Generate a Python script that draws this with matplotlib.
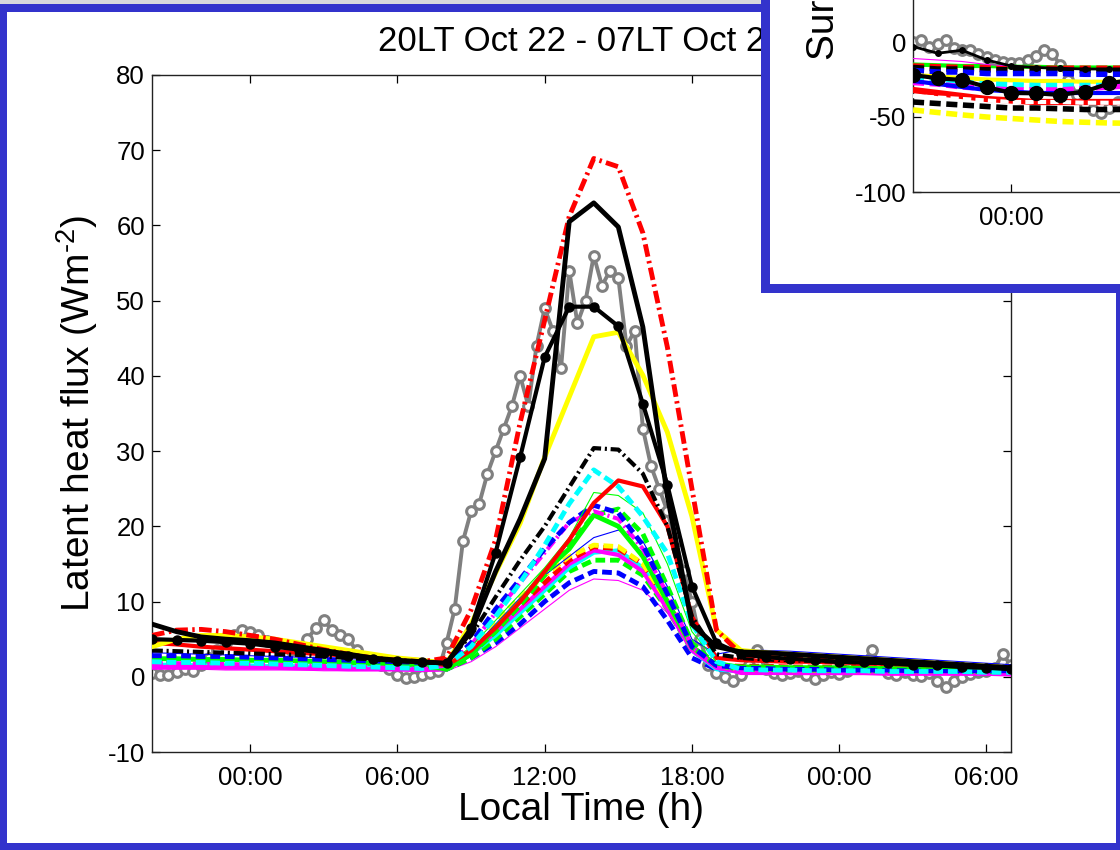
import matplotlib
matplotlib.use("Agg")
import matplotlib.pyplot as plt
from matplotlib.patches import Rectangle

plt.rcParams['font.family'] = ['Liberation Sans', 'DejaVu Sans']
plt.rcParams['axes.unicode_minus'] = False
plt.rcParams['mathtext.fontset'] = 'custom'
plt.rcParams['mathtext.rm'] = 'Liberation Sans'
plt.rcParams['mathtext.default'] = 'regular'

W, H = 1120, 850

# ---------------- data ----------------
# model output, hourly from 20LT Oct 22 (h=0) to 07LT Oct 24 (h=35)
model_hours = list(range(36))
tick_hours = [4, 10, 16, 22, 28, 34]
tick_labels = ["00:00", "06:00", "12:00", "18:00", "00:00", "06:00"]

blk_mk = [5.0,4.9,4.8,4.6,4.4,4.0,3.6,3.2,2.8,2.4,2.1,1.9, 1.8,6.5,16.5,29.2,42.5,49.2,49.2,46.6,36.3,25.5,12.0,4.5, 3.0,2.6,2.4,2.2,2.0,1.9,1.8,1.6,1.5,1.3,1.2,1.0]
blk = [7.0,6.0,5.3,5.0,4.8,4.5,4.0,3.5,3.0,2.5,2.2,2.0, 1.8,6.0,14.0,21.0,29.0,60.5,63.0,59.8,46.5,24.0,7.0,4.0, 3.3,3.2,3.0,2.8,2.6,2.4,2.2,2.0,1.8,1.6,1.4,1.2]
red_dd = [5.5,6.2,6.3,6.0,5.5,5.0,4.3,3.6,3.0,2.5,2.2,2.0, 2.5,8.9,18.2,33.8,47.4,61.2,68.9,67.8,59.0,43.8,25.0,6.2, 3.0,2.6,2.4,2.3,2.2,2.1,2.0,1.9,1.7,1.5,1.3,1.2]
yellow = [4.0,5.0,5.5,5.5,5.3,5.0,4.5,4.0,3.5,3.0,2.5,2.2, 1.8,7.0,13.8,20.4,29.2,37.2,45.2,45.8,40.1,32.5,21.3,6.2, 3.5,3.2,3.0,2.8,2.6,2.4,2.2,2.0,1.8,1.6,1.4,1.2]
blk_dd = [3.5,3.4,3.3,3.2,3.1,3.0,2.9,2.7,2.5,2.3,2.1,2.0, 2.0,5.5,10.6,15.5,20.0,25.2,30.4,30.2,27.0,20.0,8.0,3.0, 2.5,2.3,2.2,2.1,2.0,1.9,1.8,1.7,1.6,1.5,1.4,1.3]
cyan_d = [2.0,1.9,1.9,1.8,1.8,1.7,1.6,1.5,1.4,1.3,1.2,1.1, 1.5,4.0,8.0,12.5,17.5,23.0,27.5,25.3,21.3,16.4,7.0,2.0, 1.0,0.9,0.9,0.8,0.8,0.8,0.7,0.7,0.7,0.7,0.6,0.6]
red_s = [4.5,4.3,4.0,3.8,3.6,3.4,3.2,3.0,2.8,2.6,2.4,2.2, 1.5,3.5,6.5,10.0,14.0,18.2,23.1,26.1,25.3,20.0,8.0,2.5, 2.2,2.1,2.0,2.0,1.9,1.8,1.7,1.6,1.5,1.4,1.3,1.2]
grn_thin = [2.2,2.2,2.1,2.1,2.0,2.0,1.9,1.8,1.7,1.6,1.5,1.4, 1.5,4.0,7.5,11.0,14.5,18.5,24.5,24.1,21.8,15.0,6.0,2.0, 1.5,1.5,1.4,1.4,1.3,1.3,1.2,1.2,1.1,1.1,1.0,1.0]
blue_d = [2.8,2.8,2.7,2.7,2.6,2.5,2.4,2.3,2.2,2.1,2.0,1.9, 1.5,4.5,9.0,13.0,17.0,20.5,22.8,21.8,17.5,11.0,4.0,1.5, 1.2,1.1,1.0,1.0,0.9,0.9,0.9,0.8,0.8,0.8,0.8,0.8]
mag_dd = [1.8,1.8,1.7,1.7,1.6,1.6,1.5,1.5,1.4,1.3,1.2,1.1, 1.5,4.2,8.5,12.5,16.5,20.5,22.0,21.0,17.0,11.0,4.0,1.2, 0.8,0.8,0.7,0.7,0.7,0.6,0.6,0.6,0.6,0.5,0.5,0.5]
grn_d = [2.0,2.0,1.9,1.9,1.8,1.8,1.7,1.6,1.5,1.4,1.3,1.2, 1.2,3.0,6.0,9.5,13.5,17.5,21.5,22.3,19.0,12.0,4.5,1.5, 1.0,1.0,0.9,0.9,0.9,0.8,0.8,0.8,0.8,0.7,0.7,0.7]
grn_s = [2.4,2.4,2.3,2.3,2.2,2.2,2.1,2.0,1.9,1.8,1.7,1.6, 1.0,3.0,6.5,10.0,14.0,17.0,21.5,20.0,16.0,10.0,4.0,1.5, 1.3,1.3,1.2,1.2,1.2,1.1,1.1,1.1,1.0,1.0,1.0,1.0]
blue_thin = [3.2,3.1,3.0,2.9,2.8,2.7,2.6,2.5,2.4,2.3,2.2,2.1, 1.5,3.5,7.0,10.5,13.5,16.0,18.5,19.5,18.0,12.0,5.0,3.0, 3.6,3.5,3.4,3.2,3.0,2.8,2.6,2.4,2.2,2.0,1.8,1.6]
yel_d = [2.5,2.5,2.5,2.4,2.4,2.3,2.2,2.1,2.0,1.9,1.8,1.7, 1.5,4.0,7.5,10.5,13.5,16.0,17.5,17.3,15.0,10.0,4.0,1.5, 1.0,1.0,0.9,0.9,0.9,0.8,0.8,0.8,0.8,0.8,0.7,0.7]
red_d = [2.6,2.6,2.5,2.5,2.4,2.4,2.3,2.2,2.1,2.0,1.9,1.8, 1.2,3.5,6.5,9.5,12.5,15.5,17.3,17.0,15.0,10.0,4.0,1.5, 1.4,1.4,1.3,1.3,1.3,1.2,1.2,1.2,1.1,1.1,1.1,1.0]
mag_s = [1.3,1.3,1.3,1.2,1.2,1.2,1.1,1.1,1.0,1.0,1.0,0.9, 1.0,3.0,6.0,9.0,12.0,15.0,16.8,16.2,14.0,9.0,3.5,1.2, 0.6,0.6,0.5,0.5,0.5,0.5,0.4,0.4,0.4,0.4,0.4,0.3]
cyan_s = [1.6,1.6,1.5,1.5,1.5,1.4,1.4,1.3,1.3,1.2,1.2,1.1, 1.0,3.0,5.5,8.5,11.5,14.5,16.5,16.8,14.5,9.5,3.5,1.0, 0.7,0.7,0.7,0.6,0.6,0.6,0.6,0.6,0.5,0.5,0.5,0.5]
grn_d2 = [1.7,1.7,1.6,1.6,1.6,1.5,1.5,1.4,1.4,1.3,1.3,1.2, 1.0,2.5,5.0,8.0,11.0,14.0,15.5,15.5,13.5,9.0,3.5,1.2, 0.9,0.9,0.8,0.8,0.8,0.8,0.7,0.7,0.7,0.7,0.7,0.6]
blue_d2 = [2.2,2.2,2.1,2.1,2.0,2.0,1.9,1.9,1.8,1.7,1.6,1.5, 1.0,2.5,4.5,7.0,10.0,12.5,14.0,13.8,12.0,7.5,2.5,1.0, 0.8,0.8,0.8,0.7,0.7,0.7,0.7,0.7,0.6,0.6,0.6,0.6]
mag_thin = [1.0,1.0,1.0,0.9,0.9,0.9,0.9,0.8,0.8,0.8,0.8,0.7, 0.8,2.0,4.0,6.5,9.0,11.5,13.0,12.8,11.5,8.5,3.5,1.2, 0.3,0.3,0.3,0.3,0.3,0.3,0.3,0.3,0.3,0.3,0.3,0.3]

# observations, every 20 min from 20LT Oct 22
obs_hours = [i / 3 for i in range(106)]
obs = [0.5,0.3,0.2,0.6,1.0,0.8,1.5,2.5,3.5,4.5,5.5,6.2,
       6.0,5.5,4.8,4.5,4.0,3.5,3.8,5.0,6.5,7.5,6.2,5.5,
       5.0,3.5,2.5,2.0,1.5,1.0,0.3,-0.2,0.0,0.3,0.5,0.8,
       4.5,9.0,18.0,22.0,23.0,27.0,30.0,33.0,36.0,40.0,36.0,44.0,
       49.0,46.0,41.0,54.0,47.0,50.0,56.0,52.0,54.0,53.0,44.0,46.0,
       33.0,28.0,25.0,22.0,18.0,14.0,10.0,5.0,1.5,0.5,0.0,-0.5,
       0.3,1.5,3.5,1.0,0.5,0.2,0.5,0.8,0.3,-0.3,0.2,0.6,
       0.4,0.8,1.2,2.0,3.6,1.5,0.5,0.2,0.6,0.3,0.1,0.5,
       -0.5,-1.3,-0.6,0.0,0.4,0.6,0.8,1.2,3.0,1.5]

# inset (surface flux), visible portion only: hourly 20LT..05LT
ins_hours = list(range(10))
ins_blk_small = [-3,-7.5,-5.5,-12,-16,-17,-17.5,-18,-18,-18]
ins_grn = [-15,-15.5,-16,-16,-16.5,-16.5,-17,-17,-17,-17]
ins_red_d = [-16,-16.5,-17,-17,-17.5,-17.5,-17.5,-17.5,-17.5,-17.5]
ins_blk_d = [-17,-18,-18,-18.5,-18.5,-18.5,-19,-19,-19,-19]
ins_blue_d = [-19,-20,-20,-21,-21,-21,-21,-21.5,-21.5,-21.5]
ins_mag_thin = [-11,-12,-13,-15,-16,-17,-17,-18,-18,-18]
ins_yel_s = [-22,-23,-24,-25,-25.5,-26,-26,-26.5,-26.5,-26.5]
ins_cyan_d = [-24,-25,-27,-28,-28.5,-29,-29,-29,-29,-29]
ins_mag_d = [-27,-28,-30,-31,-32,-32,-32,-31,-30,-29]
ins_blue_s = [-26,-28,-30,-32,-33,-34,-34,-34,-34,-34]
ins_blk_big = [-22,-24.2,-25.3,-30,-34,-34.2,-35.3,-33,-27.5,-25]
ins_red_s = [-32,-34,-36,-38,-39,-40,-40,-40,-40,-40]
ins_white_d = [-36,-37,-38,-39,-40,-40,-40,-40.5,-40.5,-40.5]
ins_blk_d2 = [-40,-41,-42,-43,-44,-44,-44.5,-45,-45,-45]
ins_yel_d = [-45.3,-47,-48.6,-50,-51,-52,-53,-53.5,-54,-54.2]
ins_obs_hours = [i / 3 for i in range(28)]
ins_obs = [0,1.5,-3,-1,1.5,-4,-5,-5.3,-8,-10,-12,-13,-14,-14,-12,-9,-5.5,-8,-15,-25,-35,-42,-45,-47,-44,-40,-38,-36]

# ---------------- styling ----------------
DASH = (0, (2.0, 1.0))
DASHDOT = (0, (2.6, 0.9, 0.5, 0.9))
BLUE = '#3333cc'
GREY = '#808080'

main_series = [
    (mag_thin, 'magenta', '-', 0.8),
    (blue_d2, 'blue', DASH, 3.5),
    (grn_d2, '#00ff00', DASH, 3.5),
    (cyan_s, 'cyan', '-', 3.0),
    (mag_s, 'magenta', '-', 3.0),
    (red_d, 'red', DASH, 3.5),
    (yel_d, 'yellow', DASH, 3.5),
    (blue_thin, 'blue', '-', 0.8),
    (grn_s, '#00ff00', '-', 3.5),
    (grn_d, '#00ff00', DASH, 3.5),
    (mag_dd, 'magenta', DASHDOT, 3.0),
    (blue_d, 'blue', DASH, 3.5),
    (grn_thin, '#00ff00', '-', 0.8),
    (red_s, 'red', '-', 3.0),
    (cyan_d, 'cyan', DASH, 3.5),
    (blk_dd, 'black', DASHDOT, 3.0),
    (yellow, 'yellow', '-', 3.5),
    (red_dd, 'red', DASHDOT, 3.5),
    (blk, 'black', '-', 3.5),
]

inset_series = [
    (ins_grn, '#00ff00', '-', 3.0),
    (ins_red_d, 'red', DASH, 4.0),
    (ins_blk_d, 'black', DASH, 4.0),
    (ins_blue_d, 'blue', DASH, 4.0),
    (ins_mag_thin, 'magenta', '-', 0.8),
    (ins_yel_s, 'yellow', '-', 3.0),
    (ins_cyan_d, 'cyan', DASH, 4.0),
    (ins_mag_d, 'magenta', DASH, 4.0),
    (ins_blue_s, 'blue', '-', 3.0),
    (ins_red_s, 'red', '-', 4.5),
    (ins_white_d, 'white', DASH, 3.0),
    (ins_blk_d2, 'black', DASH, 4.0),
    (ins_yel_d, 'yellow', DASH, 4.0),
]

fig = plt.figure(figsize=(W / 100, H / 100), dpi=100, facecolor=BLUE)

# slide background: grey strip, white inner area
fig.add_artist(Rectangle((0, 1 - 4 / H), 1, 4 / H, transform=fig.transFigure,
                         facecolor='#d8d8dc', edgecolor='none', zorder=-2))
fig.add_artist(Rectangle((7 / W, 1 - 843 / H), (1116 - 7) / W, (843 - 12) / H,
                         transform=fig.transFigure, facecolor='white',
                         edgecolor='none', zorder=-1))


def style_axes(ax, fs):
    for s in ax.spines.values():
        s.set_linewidth(1.0)
        s.set_color('#222222')
    ax.tick_params(direction='in', length=6, width=0.9, top=True, right=True,
                   labelsize=fs, colors='black')


# ---------------- main axes ----------------
ax = fig.add_axes([152 / W, 1 - 752 / H, (1011 - 152) / W, (752 - 75) / H])
ax.set_zorder(1)
ax.set_facecolor('white')
ax.plot(obs_hours, obs, color=GREY, lw=2.8, marker='o', ms=7, mfc='white',
        mec=GREY, mew=2.2, zorder=2)
for vals, c, ls, lw in main_series:
    ax.plot(model_hours, vals, color=c, linestyle=ls, lw=lw, zorder=3)
ax.plot(model_hours, blk_mk, color='black', lw=3.0, marker='o', ms=6.5,
        zorder=4)
ax.set_xlim(0, 35)
ax.set_ylim(-10, 80)
ax.set_yticks(range(-10, 81, 10))
ax.set_xticks(tick_hours)
ax.set_xticklabels(tick_labels)
style_axes(ax, 18.5)
ax.tick_params(axis='x', pad=10)
ax.tick_params(axis='y', pad=5)
ax.set_xlabel('Local Time (h)', fontsize=28)
ax.xaxis.set_label_coords(0.5, -0.059)
ax.set_ylabel('Latent heat flux (Wm$^{\u20102}$)', fontsize=28)
ax.yaxis.set_label_coords(-0.061, 0.5)
ax.set_title('20LT Oct 22 - 07LT Oct 24', fontsize=25, pad=17)

# ---------------- inset panel ----------------
fig.add_artist(Rectangle((761 / W, 1 - 293 / H), 400 / W, 320 / H,
                         transform=fig.transFigure, facecolor=BLUE,
                         edgecolor='none', zorder=5))
fig.add_artist(Rectangle((770 / W, 1 - 284 / H), 400 / W, 320 / H,
                         transform=fig.transFigure, facecolor='white',
                         edgecolor='none', zorder=6))

ax2 = fig.add_axes([913 / W, 1 - 192 / H, (1011 - 152) / W, 300 / H])
ax2.set_zorder(7)
ax2.set_facecolor('white')
ax2.plot(ins_obs_hours, ins_obs, color=GREY, lw=2.8, marker='o', ms=7,
         mfc='white', mec=GREY, mew=2.2, zorder=2)
for vals, c, ls, lw in inset_series:
    ax2.plot(ins_hours, vals, color=c, linestyle=ls, lw=lw, zorder=3)
ax2.plot(ins_hours, ins_blk_small, color='black', lw=2.0, marker='o', ms=4,
         zorder=4)
ax2.plot(ins_hours, ins_blk_big, color='black', lw=3.0, marker='o', ms=10,
         zorder=4)
ax2.set_xlim(0, 35)
ax2.set_ylim(-100, 100)
ax2.set_yticks([-100, -50, 0])
ax2.set_xticks([4])
ax2.set_xticklabels(["00:00"])
style_axes(ax2, 18.5)
ax2.tick_params(axis='x', pad=10)
ax2.tick_params(axis='y', pad=5)
fig.text(824 / W, 1 - 60 / H, 'Surface heat flux',
         rotation=90, ha='center', va='bottom', fontsize=28, zorder=8)

fig.savefig('out.png', dpi=100, facecolor=fig.get_facecolor())
